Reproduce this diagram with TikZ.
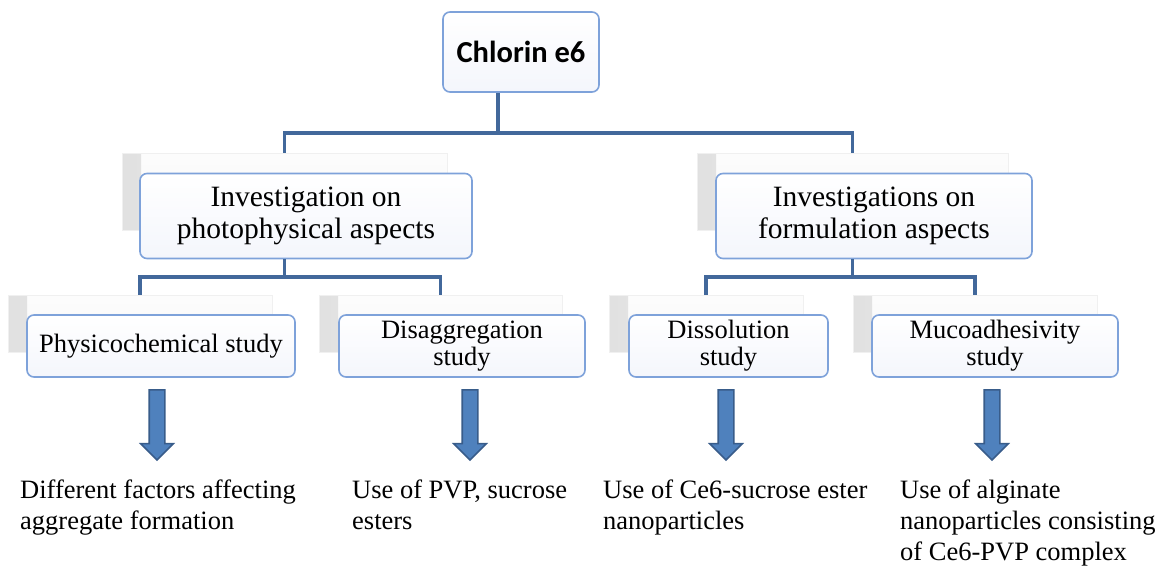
\documentclass[tikz,border=0pt]{standalone}
\usepackage{fontspec}
\setmainfont{Liberation Serif}
\newfontfamily\calib{Carlito}
\usetikzlibrary{positioning,calc,shapes.arrows}
\definecolor{ConnBlue}{RGB}{66,104,155}
\definecolor{EdgeBlue}{RGB}{126,162,218}
\definecolor{BoxFill}{RGB}{244,246,252}
\definecolor{ArrowFill}{RGB}{79,129,189}
\definecolor{ArrowEdge}{RGB}{56,92,138}

\begin{document}
\begin{tikzpicture}[x=1pt, y=-1pt,
    box/.style={rounded corners=7pt, draw=EdgeBlue, line width=1.6pt, top color=white, bottom color=BoxFill, align=center, inner sep=2pt},
    back/.style={draw=gray!12, top color=gray!2, bottom color=gray!7, line width=0.8pt,
      path picture={\shade[left color=gray!24, right color=gray!5] (path picture bounding box.south west) rectangle ([xshift=19pt]path picture bounding box.north west);}},
    conn/.style={ConnBlue, line width=3.5pt},
    blockarr/.style={single arrow, shape border rotate=270, fill=ArrowFill, draw=ArrowEdge, line width=1.6pt,
      minimum height=70pt, minimum width=31pt, single arrow head extend=8.5pt, inner sep=7pt},
    note/.style={anchor=base west, align=left, inner sep=0pt, font=\fontsize{26.5}{31}\selectfont}
  ]
  \useasboundingbox (0,0) rectangle (1164,565);

  % top
  \node[box, minimum width=156pt, minimum height=80pt, font=\calib\bfseries\fontsize{30.5}{32}\selectfont] (ce) at (521,52) {Chlorin e6};

  % second level
  \node[back, minimum width=325pt, minimum height=77pt] (photoB) at (284.5,191.5) {};
  \node[box, minimum width=332pt, minimum height=85pt, font=\fontsize{29.5}{32}\selectfont] (photo) at (306,216) {Investigation on\\ photophysical aspects};
  \node[back, minimum width=311pt, minimum height=77pt] (formB) at (852.5,191.5) {};
  \node[box, minimum width=316pt, minimum height=85pt, font=\fontsize{29.5}{32}\selectfont] (form) at (874,216) {Investigations on\\ formulation aspects};

  % third level
  \node[back, minimum width=264pt, minimum height=57pt] (pcB) at (140,323.5) {};
  \node[box, minimum width=268pt, minimum height=62pt, font=\fontsize{26.5}{27}\selectfont] (pc) at (161,346) {Physicochemical study};
  \node[back, minimum width=243pt, minimum height=57pt] (disB) at (440.5,323.5) {};
  \node[box, minimum width=246pt, minimum height=62pt, font=\fontsize{26.5}{27}\selectfont] (dis) at (462,346) {Disaggregation\\ study};
  \node[back, minimum width=194pt, minimum height=57pt] (solB) at (706,323.5) {};
  \node[box, minimum width=199pt, minimum height=62pt, font=\fontsize{26.5}{27}\selectfont] (sol) at (728.5,346) {Dissolution\\ study};
  \node[back, minimum width=244pt, minimum height=57pt] (mucB) at (975,323.5) {};
  \node[box, minimum width=246pt, minimum height=62pt, font=\fontsize{26.5}{27}\selectfont] (muc) at (995,346) {Mucoadhesivity\\ study};

  % connectors
  \coordinate (hub) at (498,133);
  \draw[conn] (hub |- ce.south) -- (hub);
  \draw[conn] (photoB.north) |- (hub) -| (formB.north);
  \coordinate (pj) at (284.5,277);
  \draw[conn] (pj |- photo.south) -- (pj);
  \draw[conn] (pcB.north) |- (pj) -| (disB.north);
  \coordinate (fj) at (852.5,277);
  \draw[conn] (fj |- form.south) -- (fj);
  \draw[conn] (solB.north) |- (fj) -| (mucB.north);

  % arrows
  \node[blockarr] (a1) at (157,421) {};
  \node[blockarr] (a2) at (470,421) {};
  \node[blockarr] (a3) at (726,421) {};
  \node[blockarr] (a4) at (992,421) {};

  % outcomes
  \node[note] (r1) at (20,529) {Different factors affecting\\ aggregate formation};
  \node[note] (r2) at (352,529) {Use of PVP, sucrose\\ esters};
  \node[note] (r3) at (603,529) {Use of Ce6-sucrose ester\\ nanoparticles};
  \node[note] (r4) at (900,560) {Use of alginate\\ nanoparticles consisting\\ of Ce6-PVP complex};
\end{tikzpicture}
\end{document}
